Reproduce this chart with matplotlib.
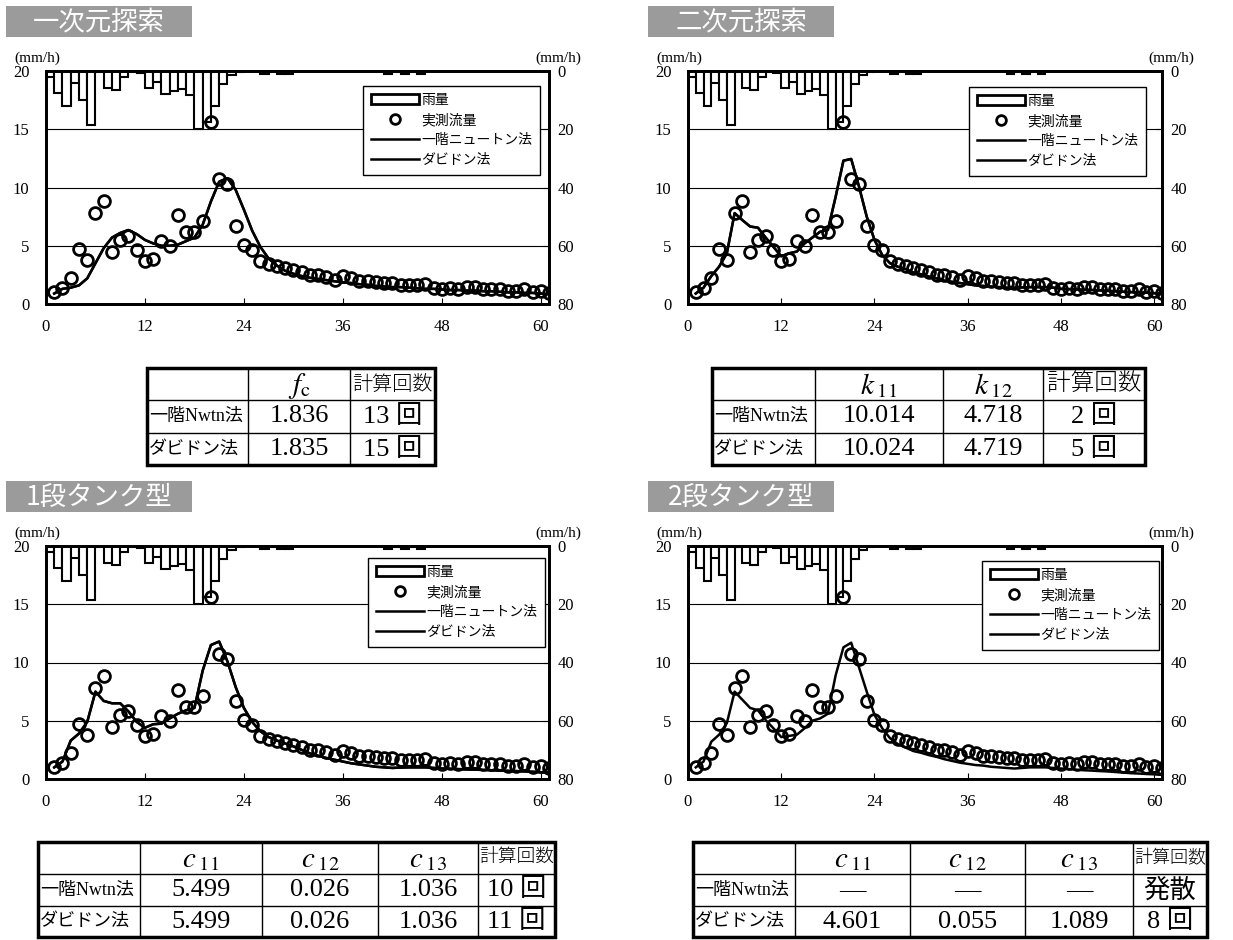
import numpy as np
import matplotlib
matplotlib.use('Agg')
import matplotlib.pyplot as plt
from matplotlib.patches import Rectangle, Patch
from matplotlib.lines import Line2D

plt.rcParams['font.family'] = ['Liberation Serif', 'Noto Sans CJK JP']
plt.rcParams['mathtext.fontset'] = 'stix'

W, H = 1233, 940

hours = np.arange(1, 62)

# hourly rainfall (mm/h), right axis, hanging from the top
rain = [2.0, 7.5, 12.0, 4.0, 10.0, 18.5, 0.3, 6.0, 6.5, 2.2,
        0.5, 0.8, 6.0, 3.8, 8.0, 7.0, 6.2, 8.4, 20.0, 17.5,
        12.0, 4.5, 1.5, 0.3, 0, 0, 1.0, 0.3, 1.0, 1.0,
        0, 0, 0, 0, 0, 0, 0, 0, 0, 0,
        0, 1.0, 0.3, 1.0, 0.3, 1.0, 0, 0, 0, 0,
        0, 0, 0, 0, 0, 0, 0, 0, 0, 0, 0]

# observed discharge (mm/h)
observed = [1.0, 1.35, 2.2, 4.7, 3.8, 7.8, 8.8, 4.45, 5.5, 5.8,
            4.6, 3.65, 3.9, 5.4, 5.0, 7.6, 6.2, 6.2, 7.1, 15.6,
            10.7, 10.3, 6.7, 5.1, 4.65, 3.7, 3.45, 3.25, 3.05, 2.9,
            2.75, 2.45, 2.45, 2.3, 2.05, 2.4, 2.2, 2.0, 1.95, 1.85,
            1.8, 1.8, 1.6, 1.6, 1.65, 1.7, 1.35, 1.3, 1.4, 1.3,
            1.45, 1.45, 1.25, 1.25, 1.25, 1.1, 1.1, 1.25, 1.05, 1.1, 0.95]

# simulated discharge for each model
sim_1d = [0.9, 1.3, 1.4, 1.6, 2.2, 3.5, 4.8, 5.7, 6.1, 6.35,
          6.0, 5.5, 5.2, 5.0, 5.0, 5.1, 5.4, 5.7, 6.8, 8.8,
          10.5, 10.8, 9.8, 8.1, 6.3, 4.9, 3.9, 3.3, 2.85, 2.6,
          2.4, 2.25, 2.15, 2.05, 1.95, 1.85, 1.8, 1.7, 1.65, 1.55,
          1.5, 1.45, 1.45, 1.4, 1.35, 1.3, 1.3, 1.25, 1.2, 1.2,
          1.15, 1.15, 1.1, 1.1, 1.05, 1.0, 1.0, 0.95, 0.95, 0.9, 0.85]

sim_2d = [0.9, 1.4, 2.4, 3.2, 4.35, 7.8, 7.2, 6.65, 6.55, 5.7,
          4.9, 4.1, 4.35, 4.5, 5.2, 5.7, 6.2, 6.35, 9.2, 12.3,
          12.45, 10.1, 7.5, 5.5, 4.2, 3.5, 3.2, 3.0, 2.7, 2.55,
          2.35, 2.2, 2.0, 1.9, 1.8, 1.7, 1.6, 1.55, 1.5, 1.45,
          1.4, 1.4, 1.42, 1.45, 1.45, 1.45, 1.4, 1.3, 1.28, 1.25,
          1.22, 1.2, 1.17, 1.13, 1.1, 1.05, 1.02, 1.0, 0.97, 0.93, 0.9]

sim_tank1 = [1.0, 1.5, 3.3, 3.9, 4.9, 7.5, 6.7, 6.5, 6.5, 5.8,
             4.9, 4.4, 4.7, 4.75, 5.2, 5.6, 5.9, 6.1, 9.3, 11.5,
             11.8, 10.1, 7.9, 6.1, 4.9, 4.1, 3.6, 3.3, 3.05, 2.8,
             2.5, 2.2, 2.0, 1.8, 1.65, 1.5, 1.35, 1.25, 1.15, 1.05,
             1.0, 0.95, 0.98, 1.0, 1.0, 1.0, 0.95, 0.9, 0.88, 0.85,
             0.82, 0.8, 0.78, 0.75, 0.72, 0.7, 0.68, 0.65, 0.62, 0.58, 0.55]

sim_tank2 = [1.0, 1.5, 3.2, 3.8, 4.8, 7.5, 6.8, 6.1, 5.9, 5.05,
             4.35, 3.6, 3.7, 3.8, 4.35, 5.0, 5.2, 5.6, 8.9, 11.3,
             11.7, 9.6, 7.5, 5.5, 4.35, 3.5, 3.0, 2.7, 2.4, 2.25,
             2.05, 1.9, 1.7, 1.55, 1.4, 1.3, 1.2, 1.15, 1.05, 1.0,
             0.95, 0.9, 0.95, 1.0, 1.0, 1.0, 0.95, 0.9, 0.85, 0.8,
             0.75, 0.72, 0.68, 0.65, 0.6, 0.55, 0.5, 0.47, 0.43, 0.4, 0.35]

panel_titles = ['一次元探索', '二次元探索', '1段タンク型', '2段タンク型']
legend_labels = ['雨量', '実測流量', '一階ニュートン法', 'ダビドン法']
row_labels = ['一階Nwtn法', 'ダビドン法']

t1_header = ['', r'$f_{\rm c}$', '計算回数']
t1_rows = [['1.836', '13 回'], ['1.835', '15 回']]
t2_header = ['', r'$k\,_{11}$', r'$k\,_{12}$', '計算回数']
t2_rows = [['10.014', '4.718', '2 回'], ['10.024', '4.719', '5 回']]
t3_header = ['', r'$c\,_{11}$', r'$c\,_{12}$', r'$c\,_{13}$', '計算回数']
t3_rows = [['5.499', '0.026', '1.036', '10 回'], ['5.499', '0.026', '1.036', '11 回']]
t4_header = ['', r'$c\,_{11}$', r'$c\,_{12}$', r'$c\,_{13}$', '計算回数']
t4_rows = [['—', '—', '—', '発散'], ['4.601', '0.055', '1.089', '8 回']]

fig = plt.figure(figsize=(W / 100, H / 100), dpi=100)

# overlay in pixel coordinates for title boxes and tables
ov = fig.add_axes([0, 0, 1, 1])
ov.set_xlim(0, W)
ov.set_ylim(H, 0)
ov.axis('off')


def title_box(x0, y0, text):
    ov.add_patch(Rectangle((x0, y0), 186, 31, facecolor='#9b9b9b', edgecolor='none'))
    ov.text(x0 + 93, y0 + 16, text, color='white', fontsize=19, ha='center', va='center',
            family=['Noto Sans CJK JP'])


def draw_table(xs, ys, header, rows, head_size):
    x0, x1 = xs[0], xs[-1]
    y0, y1 = ys[0], ys[-1]
    for x in xs[1:-1]:
        ov.plot([x, x], [y0, y1], color='black', lw=1)
    for y in ys[1:-1]:
        ov.plot([x0, x1], [y, y], color='black', lw=1)
    ov.add_patch(Rectangle((x0, y0), x1 - x0, y1 - y0, fill=False, edgecolor='black', lw=2.5))
    cx = [(xs[i] + xs[i + 1]) / 2 for i in range(len(xs) - 1)]
    cy = [(ys[i] + ys[i + 1]) / 2 for i in range(len(ys) - 1)]
    for i, h in enumerate(header):
        if h == '計算回数':
            ov.text(cx[i], cy[0], h, fontsize=head_size, ha='center', va='center',
                    family=['Noto Sans CJK JP'], fontweight='light')
        elif h:
            ov.text(cx[i], cy[0] + 2, h, fontsize=21, ha='center', va='center')
    for r, row in enumerate(rows):
        ov.text(x0 + 2, cy[r + 1], row_labels[r], fontsize=13, ha='left', va='center')
        for i, v in enumerate(row):
            ov.text(cx[i + 1], cy[r + 1], v, fontsize=19, ha='center', va='center')


def draw_panel(box, sim_newton, sim_davidon, leg_anchor):
    l, t, r, b = box
    ax = fig.add_axes([l / W, 1 - b / H, (r - l) / W, (b - t) / H])
    ax2 = ax.twinx()
    ax2.bar(hours - 0.5, rain, width=1.0, facecolor='white', edgecolor='black', linewidth=1.5)
    ax2.set_ylim(80, 0)
    ax2.set_yticks(range(0, 81, 20))
    ax2.tick_params(direction='in', length=4, labelsize=12, pad=6)
    ax.set_zorder(ax2.get_zorder() + 1)
    ax.patch.set_visible(False)

    ax.plot(hours[:len(sim_newton)], sim_newton, color='black', lw=1.8)
    ax.plot(hours, sim_davidon, color='black', lw=1.8)
    ax.plot(hours, observed, 'o', mfc='none', mec='black', mew=2, ms=8.5)

    ax.set_xlim(0, 61)
    ax.set_ylim(0, 20)
    ax.set_xticks(range(0, 61, 12))
    ax.set_yticks(range(0, 21, 5))
    ax.grid(axis='y', color='black', lw=0.8)
    ax.tick_params(axis='x', direction='in', length=4, labelsize=12, pad=11)
    ax.tick_params(axis='y', length=0, labelsize=12, pad=12)
    for a in (ax, ax2):
        for s in a.spines.values():
            s.set_linewidth(2)

    handles = [Patch(facecolor='white', edgecolor='black', lw=2),
               Line2D([], [], marker='o', ls='none', mfc='none', mec='black', mew=2, ms=7),
               Line2D([], [], color='black', lw=1.8),
               Line2D([], [], color='black', lw=1.8)]
    leg = ax.legend(handles, legend_labels, loc='upper right', bbox_to_anchor=leg_anchor,
                    borderaxespad=0, fontsize=10, fancybox=False, edgecolor='black',
                    framealpha=1, handlelength=3.5, handletextpad=0.15, labelspacing=0.5,
                    borderpad=0.55)
    leg.get_frame().set_linewidth(1.0)

    fig.text((l - 32) / W, 1 - (t - 13) / H, '(mm/h)', fontsize=11, ha='left', va='center')
    fig.text((r - 14) / W, 1 - (t - 13) / H, '(mm/h)', fontsize=11, ha='left', va='center')


title_box(6, 6, panel_titles[0])
title_box(648, 6, panel_titles[1])
title_box(6, 481, panel_titles[2])
title_box(648, 481, panel_titles[3])

draw_panel((46, 71, 549, 304), sim_1d, sim_1d, (0.982, 0.936))
draw_panel((688, 71, 1162, 304), sim_2d, sim_2d, (0.966, 0.931))
draw_panel((46, 546, 549, 779), sim_tank1, sim_tank1, (0.992, 0.948))
draw_panel((688, 546, 1162, 779), [], sim_tank2, (0.994, 0.936))

draw_table([147, 248, 350, 435], [368, 400, 433, 465], t1_header, t1_rows, 14.5)
draw_table([712, 815, 943, 1043, 1145], [368, 400, 433, 465], t2_header, t2_rows, 17)
draw_table([38, 140, 262, 378, 478, 555], [842, 874, 906, 937], t3_header, t3_rows, 13.5)
draw_table([693, 795, 910, 1025, 1133, 1207], [842, 874, 906, 937], t4_header, t4_rows, 13)

fig.savefig('out.png', dpi=100)
